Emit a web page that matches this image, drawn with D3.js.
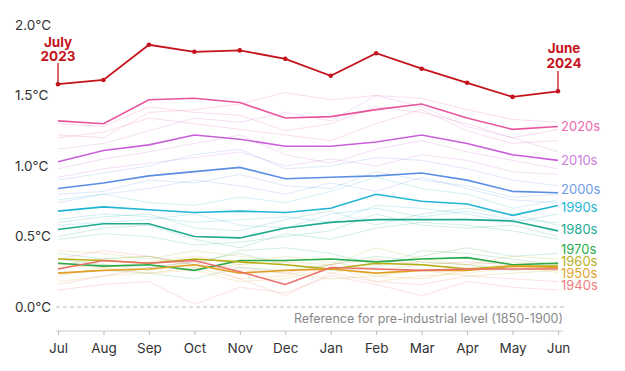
<!DOCTYPE html>
<html>
<head>
<meta charset="utf-8">
<script src="https://cdn.jsdelivr.net/npm/d3@7"></script>
<style>
  body { margin: 0; background: #fff; }
  svg text { font-family: Inter, "Noto Sans", sans-serif; }
</style>
</head>
<body>
<div id="chart"></div>
<script>
// Data
const months = ['Jul', 'Aug', 'Sep', 'Oct', 'Nov', 'Dec', 'Jan', 'Feb', 'Mar', 'Apr', 'May', 'Jun'];
const yTicks = [0, 0.5, 1.0, 1.5, 2.0];

// July 2023 - June 2024
const latest = [1.58, 1.61, 1.86, 1.81, 1.82, 1.76, 1.64, 1.80, 1.69, 1.59, 1.49, 1.53];

// decade averages
const decades = ['2020s', '2010s', '2000s', '1990s', '1980s', '1970s', '1960s', '1950s', '1940s'];
const d2020s = [1.32, 1.30, 1.47, 1.48, 1.45, 1.34, 1.35, 1.40, 1.44, 1.34, 1.26, 1.28];
const d2010s = [1.03, 1.11, 1.15, 1.22, 1.19, 1.14, 1.14, 1.17, 1.22, 1.16, 1.08, 1.04];
const d2000s = [0.84, 0.88, 0.93, 0.96, 0.99, 0.91, 0.92, 0.93, 0.95, 0.90, 0.82, 0.81];
const d1990s = [0.68, 0.71, 0.69, 0.67, 0.68, 0.67, 0.70, 0.80, 0.75, 0.73, 0.65, 0.72];
const d1980s = [0.55, 0.59, 0.59, 0.50, 0.49, 0.56, 0.60, 0.62, 0.62, 0.62, 0.61, 0.54];
const d1970s = [0.31, 0.29, 0.30, 0.26, 0.33, 0.33, 0.34, 0.32, 0.34, 0.35, 0.30, 0.31];
const d1960s = [0.34, 0.33, 0.31, 0.34, 0.32, 0.30, 0.27, 0.31, 0.30, 0.27, 0.29, 0.29];
const d1950s = [0.24, 0.26, 0.27, 0.30, 0.24, 0.26, 0.27, 0.24, 0.26, 0.26, 0.29, 0.28];
const d1940s = [0.27, 0.33, 0.31, 0.33, 0.25, 0.16, 0.28, 0.27, 0.26, 0.27, 0.27, 0.27];
const decadeValues = [d2020s, d2010s, d2000s, d1990s, d1980s, d1970s, d1960s, d1950s, d1940s];
const decadeColors = ['#e8559e', '#c95fd9', '#5b8fe6', '#1fb5d3', '#1daa8e', '#2aaa4a', '#b5ad14', '#e0a025', '#ea6e6a'];
const labelColors = ['#ec6aac', '#cc7fdc', '#6f9be8', '#25b8d4', '#22ad92', '#2aaa4a', '#b9b020', '#e3a42c', '#ee8080'];

// faint single-season lines (decade index, values)
const seasonDecade = [0, 0, 0, 1, 1, 1, 2, 2, 2, 3, 3, 3, 4, 4, 4, 5, 5, 5, 6, 6, 6, 7, 7, 7, 8, 8, 8];
const seasonValues = [
  [1.22, 1.20, 1.38, 1.40, 1.44, 1.52, 1.47, 1.50, 1.48, 1.40, 1.33, 1.31],
  [1.30, 1.28, 1.42, 1.38, 1.36, 1.25, 1.30, 1.42, 1.38, 1.30, 1.20, 1.26],
  [1.20, 1.24, 1.34, 1.30, 1.26, 1.22, 1.18, 1.30, 1.40, 1.25, 1.16, 1.18],
  [1.12, 1.16, 1.25, 1.34, 1.31, 1.38, 1.32, 1.50, 1.42, 1.28, 1.20, 1.10],
  [0.98, 1.05, 1.10, 1.16, 1.22, 1.08, 1.02, 1.12, 1.18, 1.10, 1.04, 0.98],
  [0.92, 0.98, 1.02, 1.06, 1.10, 1.00, 1.05, 1.00, 1.08, 1.04, 0.96, 0.94],
  [0.90, 0.95, 1.00, 1.08, 1.12, 0.98, 1.00, 1.06, 1.04, 0.98, 0.90, 0.86],
  [0.80, 0.82, 0.90, 0.88, 0.94, 0.86, 0.84, 0.96, 0.90, 0.86, 0.78, 0.80],
  [0.74, 0.80, 0.84, 0.90, 0.86, 0.80, 0.88, 0.82, 0.92, 0.84, 0.76, 0.74],
  [0.76, 0.80, 0.74, 0.72, 0.78, 0.74, 0.82, 0.92, 0.84, 0.80, 0.70, 0.76],
  [0.62, 0.66, 0.64, 0.60, 0.62, 0.64, 0.60, 0.72, 0.70, 0.66, 0.60, 0.66],
  [0.58, 0.60, 0.62, 0.66, 0.58, 0.56, 0.66, 0.70, 0.64, 0.68, 0.62, 0.60],
  [0.60, 0.64, 0.66, 0.56, 0.54, 0.62, 0.68, 0.58, 0.66, 0.70, 0.66, 0.58],
  [0.48, 0.52, 0.50, 0.44, 0.46, 0.50, 0.54, 0.66, 0.58, 0.56, 0.58, 0.50],
  [0.50, 0.56, 0.58, 0.48, 0.42, 0.52, 0.48, 0.56, 0.60, 0.58, 0.54, 0.48],
  [0.38, 0.34, 0.36, 0.30, 0.40, 0.42, 0.38, 0.30, 0.36, 0.42, 0.36, 0.38],
  [0.24, 0.26, 0.24, 0.20, 0.28, 0.26, 0.30, 0.36, 0.32, 0.30, 0.26, 0.28],
  [0.34, 0.30, 0.28, 0.32, 0.38, 0.30, 0.26, 0.28, 0.40, 0.38, 0.34, 0.30],
  [0.40, 0.38, 0.34, 0.40, 0.36, 0.32, 0.30, 0.42, 0.34, 0.30, 0.36, 0.34],
  [0.28, 0.30, 0.26, 0.30, 0.26, 0.24, 0.20, 0.22, 0.26, 0.22, 0.24, 0.26],
  [0.30, 0.34, 0.36, 0.28, 0.30, 0.36, 0.32, 0.26, 0.30, 0.28, 0.30, 0.32],
  [0.18, 0.22, 0.24, 0.28, 0.20, 0.22, 0.30, 0.18, 0.22, 0.24, 0.28, 0.26],
  [0.30, 0.28, 0.32, 0.36, 0.30, 0.32, 0.24, 0.30, 0.32, 0.30, 0.32, 0.30],
  [0.22, 0.28, 0.24, 0.26, 0.18, 0.20, 0.28, 0.22, 0.20, 0.26, 0.30, 0.24],
  [0.16, 0.22, 0.28, 0.32, 0.20, 0.08, 0.24, 0.18, 0.16, 0.22, 0.20, 0.18],
  [0.34, 0.40, 0.36, 0.30, 0.28, 0.24, 0.30, 0.34, 0.30, 0.32, 0.30, 0.28],
  [0.12, 0.16, 0.18, 0.02, 0.14, 0.10, 0.22, 0.16, 0.08, 0.18, 0.14, 0.12]
];

const width = 625, height = 371;

const svg = d3.select("#chart")
    .append("svg")
    .attr("width", width)
    .attr("height", height);

// Scales
const x = d3.scalePoint()
    .domain(months)
    .range([58, 558]);

const y = d3.scaleLinear()
    .domain([0, 2])
    .range([307, 25]);

const line = d3.line()
    .x((d, i) => x(months[i]))
    .y(d => y(d));

// Y labels
svg.append("g")
    .selectAll("text")
    .data(yTicks)
    .enter()
    .append("text")
    .attr("x", 15)
    .attr("y", d => y(d))
    .attr("dy", "0.35em")
    .style("font-size", "13.5px")
    .style("fill", "#333")
    .text(d => d.toFixed(1) + "°C");

// Zero reference line
svg.append("line")
    .attr("x1", 56)
    .attr("x2", 565)
    .attr("y1", y(0))
    .attr("y2", y(0))
    .style("stroke", "#bbb")
    .style("stroke-width", 1.2)
    .style("stroke-dasharray", "4,3");

svg.append("text")
    .attr("x", 563)
    .attr("y", y(0) + 12)
    .attr("dy", "0.35em")
    .attr("text-anchor", "end")
    .style("font-size", "12.5px")
    .style("fill", "#8a8a8a")
    .text("Reference for pre-industrial level (1850-1900)");

// X axis
const xAxis = svg.append("g")
    .attr("transform", "translate(0,331)")
    .call(d3.axisBottom(x).tickSize(4).tickPadding(8));
xAxis.select(".domain").attr("d", "M56,0H563").style("stroke", "#ccc");
xAxis.selectAll(".tick line").style("stroke", "#bbb");
xAxis.selectAll(".tick text")
    .style("font-size", "13.5px")
    .style("fill", "#333")
    .style("font-family", "Inter, 'Noto Sans', sans-serif");

// Faint season lines
svg.append("g")
    .selectAll("path")
    .data(seasonValues)
    .enter()
    .append("path")
    .attr("d", d => line(d))
    .style("fill", "none")
    .style("stroke", (d, i) => decadeColors[seasonDecade[i]])
    .style("stroke-width", 1)
    .style("opacity", 0.2);

// Decade average lines
svg.append("g")
    .selectAll("path")
    .data(decadeValues)
    .enter()
    .append("path")
    .attr("d", d => line(d))
    .style("fill", "none")
    .style("stroke", (d, i) => decadeColors[i])
    .style("stroke-width", 1.6);

// Decade labels
const labelY = [126, 160, 189, 207, 229, 249, 261, 273, 285];
svg.append("g")
    .selectAll("text")
    .data(decades)
    .enter()
    .append("text")
    .attr("x", 561)
    .attr("y", (d, i) => labelY[i])
    .attr("dy", "0.35em")
    .style("font-size", "13px")
    .style("fill", (d, i) => labelColors[i])
    .text(d => d);

// Latest season
const red = "#c4131c";
svg.append("path")
    .attr("d", line(latest))
    .style("fill", "none")
    .style("stroke", red)
    .style("stroke-width", 1.8);

svg.append("g")
    .selectAll("circle")
    .data(latest)
    .enter()
    .append("circle")
    .attr("cx", (d, i) => x(months[i]))
    .attr("cy", d => y(d))
    .attr("r", 2.3)
    .style("fill", red);

// Start / end annotations
const first = latest[0], last = latest[latest.length - 1];
svg.append("line")
    .attr("x1", x("Jul")).attr("x2", x("Jul"))
    .attr("y1", 63).attr("y2", y(first))
    .style("stroke", red).style("stroke-width", 1.3);
svg.append("line")
    .attr("x1", x("Jun")).attr("x2", x("Jun"))
    .attr("y1", 71).attr("y2", y(last))
    .style("stroke", red).style("stroke-width", 1.3);

const startLabel = svg.append("text")
    .attr("text-anchor", "middle")
    .style("font-size", "13.5px")
    .style("font-weight", "bold")
    .style("fill", red);
startLabel.append("tspan").attr("x", x("Jul")).attr("y", 47).text("July");
startLabel.append("tspan").attr("x", x("Jul")).attr("y", 60.5).text("2023");

const endLabel = svg.append("text")
    .attr("text-anchor", "middle")
    .style("font-size", "13.5px")
    .style("font-weight", "bold")
    .style("fill", red);
endLabel.append("tspan").attr("x", x("Jun") + 6).attr("y", 53).text("June");
endLabel.append("tspan").attr("x", x("Jun") + 6).attr("y", 67.5).text("2024");
</script>
</body>
</html>
